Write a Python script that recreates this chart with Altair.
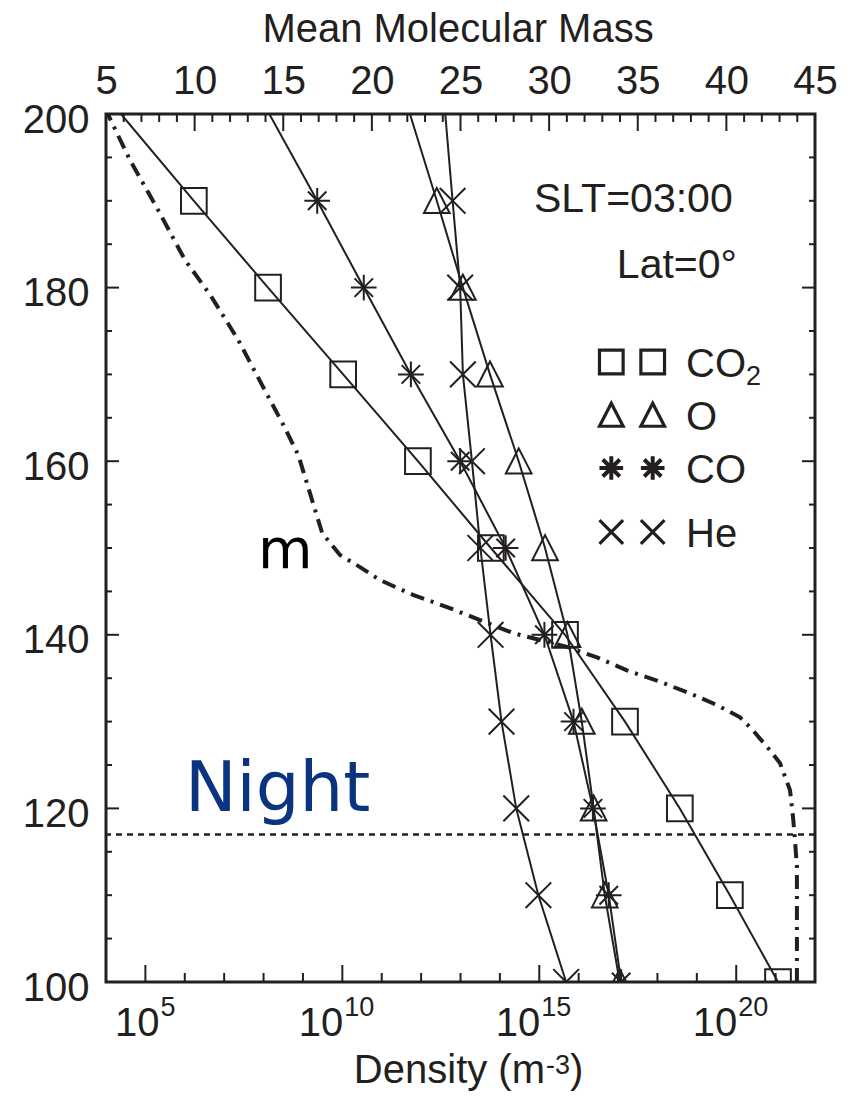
import altair as alt
import pandas as pd

# ---- profiles (altitude in km, number density in m^-3) ----
ALTITUDE = [200, 190, 180, 170, 160, 150, 140, 130, 120, 110, 100]
CO2 = [2.4e4, 1.7e6, 1.3e8, 1.05e10, 8.3e11, 5.9e13, 4.5e15, 1.5e17, 3.7e18, 6.9e19, 1.15e21]
O = [5.2e11, 2.5e12, 1.15e13, 5.6e13, 3.0e14, 1.4e15, 5.2e15, 1.2e16, 2.4e16, 4.6e16, 1.1e17]
CO = [1.4e8, 2.3e9, 3.5e10, 5.5e11, 9.8e12, 1.4e14, 1.35e15, 7.4e15, 2.3e16, 5.8e16, 1.2e17]
HE = [4.1e12, 6.3e12, 9.8e12, 1.15e13, 1.95e13, 3.2e13, 5.8e13, 1.1e14, 2.6e14, 9.5e14, 4.8e15]

# mean molecular mass profile
M_ALT = [200, 194.7, 188.9, 183.2, 179.1, 174.0, 168.8, 164.2, 160.7, 156.7, 151.7, 149.2,
         147.8, 146.3, 144.6, 143.2, 141.7, 140.2, 139.4, 138.6, 137.4, 135.9, 134.6, 133.1,
         131.9, 130.5, 129.0, 126.7, 125.2, 122.1, 119.0, 116.4, 113.2, 100]
M_VAL = [5.1, 6.35, 7.95, 9.45, 10.9, 12.45, 13.8, 15.0, 15.85, 16.45, 17.2, 18.2,
         19.33, 20.46, 22.32, 24.24, 26.1, 27.96, 29.49, 31.01, 32.7, 34.39, 36.26, 38.12,
         39.47, 40.77, 41.5, 42.46, 43.03, 43.59, 43.76, 43.87, 43.98, 43.98]

NIGHT_ALT = 117

SPECIES = ["CO2", "O", "CO", "He"]
LEGEND_LABELS = ["CO", "O", "CO", "He"]

# axes
DENSITY_DOMAIN = [1e4, 1e22]
MASS_DOMAIN = [5, 45]
ALT_DOMAIN = [100, 200]
ALT_LABELS = [100, 120, 140, 160, 180, 200]
ALT_TICKS = list(range(100, 201, 5))
MASS_LABELS = list(range(5, 46, 5))
MASS_TICKS = list(range(5, 46))
DECADES = list(range(5, 22))
DECADE_LABELS = [5, 10, 15, 20]

INK = "#231f20"
FONT = "Liberation Sans"
W, H = 709, 868

# marker outlines, drawn in a [-1, 1] box
SHAPES = {
    "CO2": "M-1,-1L1,-1L1,1L-1,1Z",
    "O": "M0,-1L1,0.95L-1,0.95Z",
    "CO": "M-1,0L1,0M0,-1L0,1M-0.72,-0.72L0.72,0.72M-0.72,0.72L0.72,-0.72",
    "He": "M-1,-1L1,1M-1,1L1,-1",
}


def pair(path, gap=1.75):
    """Two copies of a marker outline side by side (legend key)."""
    out = []
    for off in (-gap, gap):
        toks = []
        for seg in path.replace("M", " M").replace("L", " L").replace("Z", " Z").split():
            cmd = seg[0]
            if cmd == "Z":
                toks.append("Z")
                continue
            xs, ys = seg[1:].split(",")
            toks.append(f"{cmd}{float(xs) + off:.3f},{ys}")
        out.append("".join(toks))
    return "".join(out)


dens_scale = alt.Scale(type="log", domain=DENSITY_DOMAIN, nice=False, zero=False)
mass_scale = alt.Scale(domain=MASS_DOMAIN, nice=False, zero=False)
alt_scale = alt.Scale(domain=ALT_DOMAIN, nice=False, zero=False)

y_axis = alt.Axis(values=ALT_LABELS, labelFontSize=40, labelFont=FONT, labelColor=INK,
                  ticks=False, tickSize=0, domain=False, grid=False, labelPadding=17,
                  labelBaseline="alphabetic", labelOffset=18, labelFlush=False, title=None)
Y = alt.Y("alt:Q", scale=alt_scale, axis=y_axis)

rows = []
for name, vals in zip(SPECIES, [CO2, O, CO, HE]):
    for a, d in zip(ALTITUDE, vals):
        rows.append({"species": name, "alt": a, "density": d})
profiles = pd.DataFrame(rows)

X_DENS = alt.X("density:Q", scale=dens_scale, axis=None)

lines = alt.Chart(profiles).mark_line(color=INK, strokeWidth=2, clip=True).encode(
    x=X_DENS, y=Y, detail="species:N", order="alt:Q")

markers = alt.Chart(profiles).transform_filter("datum.alt < 200").mark_point(
    filled=False, size=660, strokeWidth=2, color=INK, opacity=1, clip=True).encode(
    x=X_DENS, y=Y,
    shape=alt.Shape("species:N", scale=alt.Scale(domain=SPECIES, range=[SHAPES[s] for s in SPECIES]),
                    legend=None))

mass_df = pd.DataFrame({"alt": M_ALT, "m": M_VAL})
mass_line = alt.Chart(mass_df).mark_line(color=INK, strokeWidth=4, strokeDash=[14, 7, 3, 7],
                                         clip=True).encode(
    x=alt.X("m:Q", scale=mass_scale,
            axis=alt.Axis(orient="top", values=MASS_LABELS, labelFontSize=40, labelFont=FONT,
                          labelColor=INK, ticks=False, tickSize=0, domain=False, grid=False,
                          labelPadding=21, labelBaseline="alphabetic", labelFlush=False,
                          title=None)),
    y=Y, order="alt:Q")

night = alt.Chart(pd.DataFrame({"alt": [NIGHT_ALT]})).mark_rule(
    color=INK, strokeWidth=2.5, strokeDash=[6, 5]).encode(y=Y)

# inward tick marks on all four sides
alt_ticks = pd.DataFrame({"alt": ALT_TICKS})
alt_ticks["major"] = alt_ticks["alt"] % 20 == 0
mass_ticks = pd.DataFrame({"m": MASS_TICKS})
mass_ticks["major"] = mass_ticks["m"] % 5 == 0
dec_ticks = pd.DataFrame({"density": [10.0 ** e for e in DECADES], "e": DECADES})
dec_ticks["major"] = dec_ticks["e"] % 5 == 0

tick_layers = []
for major, ln in [(True, 13), (False, 6)]:
    sel = f"{'datum.major' if major else '!datum.major'}"
    base = alt.Chart(alt_ticks).transform_filter(sel).mark_rule(color=INK, strokeWidth=2)
    tick_layers.append(base.encode(y=Y, x=alt.value(0), x2=alt.value(ln)))
    tick_layers.append(base.encode(y=Y, x=alt.value(W - ln), x2=alt.value(W)))
for major, ln in [(True, 17), (False, 8)]:
    sel = f"{'datum.major' if major else '!datum.major'}"
    tick_layers.append(alt.Chart(mass_ticks).transform_filter(sel).mark_rule(
        color=INK, strokeWidth=2).encode(
        x=alt.X("m:Q", scale=mass_scale, axis=None), y=alt.value(0), y2=alt.value(ln)))
for major, ln in [(True, 17), (False, 9)]:
    sel = f"{'datum.major' if major else '!datum.major'}"
    tick_layers.append(alt.Chart(dec_ticks).transform_filter(sel).mark_rule(
        color=INK, strokeWidth=2).encode(
        x=X_DENS, y=alt.value(H), y2=alt.value(H - ln)))

# power-of-ten labels under the density axis
dec_lab = pd.DataFrame({"density": [10.0 ** e for e in DECADE_LABELS],
                        "base": "10", "exp": [str(e) for e in DECADE_LABELS]})
label_layers = []
for short, dx in [(True, 14), (False, 1)]:
    sel = "length(datum.exp) == 1" if short else "length(datum.exp) > 1"
    src = alt.Chart(dec_lab).transform_filter(sel)
    label_layers.append(src.mark_text(align="right", baseline="alphabetic", fontSize=40,
                                      font=FONT, color=INK, dx=dx).encode(
        x=X_DENS, y=alt.value(H + 54), text="base:N"))
    label_layers.append(src.mark_text(align="left", baseline="alphabetic", fontSize=27,
                                      font=FONT, color=INK, dx=dx + 1).encode(
        x=X_DENS, y=alt.value(H + 34), text="exp:N"))


def note(text, x, y, size=40, align="left", font=FONT, color=INK):
    return alt.Chart(pd.DataFrame({"t": [text]})).mark_text(
        align=align, baseline="alphabetic", fontSize=size, font=font, color=color).encode(
        x=alt.value(x), y=alt.value(y), text="t:N")


texts = [
    note("Mean Molecular Mass", 352, -72, align="center"),
    note("Density (m", 439, H + 101, align="right"),
    note("-3", 440, H + 92, size=27),
    note(")", 464, H + 101),
    note("SLT=03:00", 428, 98, size=41),
    note("Lat=0\u00b0", 631, 164, size=41, align="right"),
    note("m", 152, 454, size=56, font="DejaVu Sans", color="#000000"),
    note("Night", 79, 697, size=69, font="DejaVu Sans", color="#0a3480"),
]

# legend: two keys per species then the name
LEGEND_Y = [248, 301, 354, 418]
legend_layers = []
for name, label, ry in zip(SPECIES, LEGEND_LABELS, LEGEND_Y):
    legend_layers.append(alt.Chart(pd.DataFrame({"species": [name]})).mark_point(
        shape=pair(SHAPES[name]), size=560, filled=False,
        strokeWidth=4 if name == "CO" else 3.2, color=INK,
        opacity=1).encode(x=alt.value(526), y=alt.value(ry)))
    legend_layers.append(note(label, 580, ry + 15))
legend_layers.append(note("2", 640, LEGEND_Y[0] + 23, size=27))

chart = alt.layer(
    *tick_layers, night, mass_line, lines, markers, *label_layers, *texts, *legend_layers
).resolve_scale(x="independent").properties(
    width=W, height=H, background="white",
    autosize=alt.AutoSizeParams(type="none"),
    padding={"left": 106, "top": 114, "right": 37, "bottom": 119},
).configure_view(stroke=INK, strokeWidth=3)

chart.save("out.html", embed_options={"renderer": "svg", "actions": False})
